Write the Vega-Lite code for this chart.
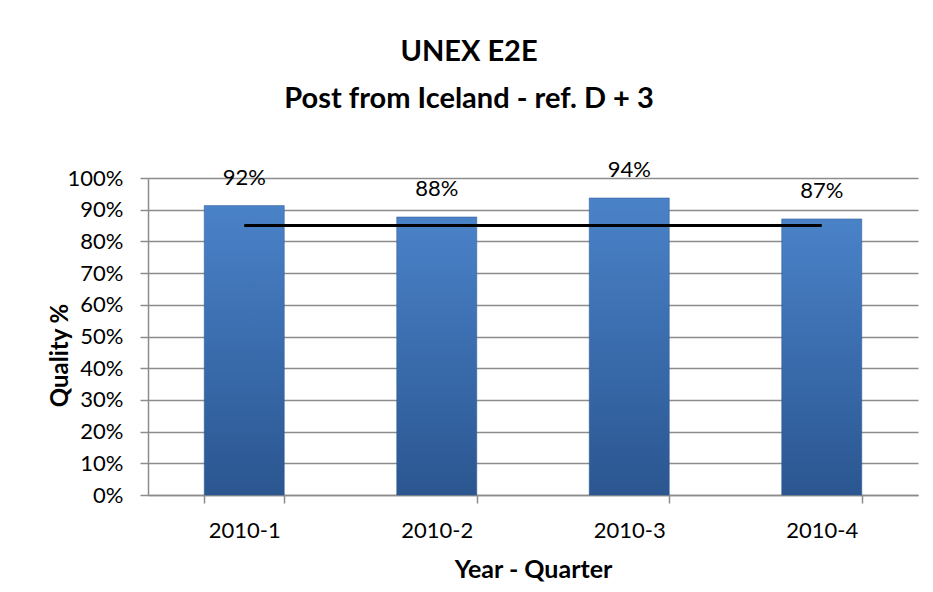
{
  "$schema": "https://vega.github.io/schema/vega-lite/v6.json",
  "autosize": "none",
  "width": 770,
  "height": 317,
  "padding": {"left": 148, "top": 178, "right": 15, "bottom": 97},
  "background": "white",
  "config": {"view": {"stroke": null}},
  "title": {
    "text": ["UNEX E2E", "Post from Iceland - ref. D + 3"],
    "anchor": "middle",
    "frame": "group",
    "dx": -64,
    "offset": 45,
    "font": "Lato",
    "fontSize": 29,
    "fontWeight": "bold",
    "color": "#000000",
    "lineHeight": 47
  },
  "data": {
    "values": [
      {"quarter": "2010-1", "value": 0.913, "label": "92%", "target": 0.85},
      {"quarter": "2010-2", "value": 0.877, "label": "88%", "target": 0.85},
      {"quarter": "2010-3", "value": 0.937, "label": "94%", "target": 0.85},
      {"quarter": "2010-4", "value": 0.871, "label": "87%", "target": 0.85}
    ]
  },
  "encoding": {
    "x": {
      "field": "quarter",
      "type": "nominal",
      "sort": null,
      "scale": {"paddingInner": 0.584, "paddingOuter": 0.292},
      "axis": {
        "title": "Year - Quarter",
        "labelAngle": 0,
        "tickBand": "extent",
        "tickSize": 8,
        "tickColor": "#8c8c8c",
        "tickWidth": 1.5,
        "domainColor": "#8c8c8c",
        "domainWidth": 1.5,
        "labelFont": "Lato",
        "labelFontSize": 22,
        "labelColor": "#000000",
        "labelPadding": 17,
        "titleFont": "Lato",
        "titleFontSize": 25,
        "titleFontWeight": "bold",
        "titleColor": "#000000",
        "titlePadding": 16,
        "grid": false
      }
    },
    "y": {
      "field": "value",
      "type": "quantitative",
      "scale": {"domain": [0, 1]},
      "axis": {
        "title": "Quality %",
        "format": ".0%",
        "values": [0, 0.1, 0.2, 0.3, 0.4, 0.5, 0.6, 0.7, 0.8, 0.9, 1],
        "tickCount": 20,
        "labelOverlap": false,
        "grid": true,
        "gridColor": "#8c8c8c",
        "gridWidth": 1.5,
        "tickColor": "#8c8c8c",
        "tickWidth": 1.5,
        "tickSize": 8,
        "domainColor": "#8c8c8c",
        "domainWidth": 1.5,
        "labelFont": "Lato",
        "labelFontSize": 22,
        "labelColor": "#000000",
        "labelPadding": 17,
        "titleFont": "Lato",
        "titleFontSize": 24,
        "titleFontWeight": "bold",
        "titleColor": "#000000",
        "titleX": -88,
        "titleY": 177,
        "titleBaseline": "middle",
        "titleAlign": "center",
        "titleAngle": -90
      }
    }
  },
  "layer": [
    {
      "mark": {
        "type": "bar",
        "color": {
          "gradient": "linear",
          "x1": 0, "y1": 0, "x2": 0, "y2": 1,
          "stops": [
            {"offset": 0, "color": "#4a82c8"},
            {"offset": 0.5, "color": "#3a6cad"},
            {"offset": 1, "color": "#2b5690"}
          ]
        },
        "stroke": "#2f5b93",
        "strokeWidth": 0.5
      }
    },
    {
      "mark": {"type": "line", "color": "#000000", "strokeWidth": 3},
      "encoding": {
        "y": {"field": "target", "type": "quantitative"}
      }
    },
    {
      "mark": {"type": "text", "dy": -28, "font": "Lato", "fontSize": 22, "color": "#000000"},
      "encoding": {
        "text": {"field": "label"}
      }
    }
  ]
}
